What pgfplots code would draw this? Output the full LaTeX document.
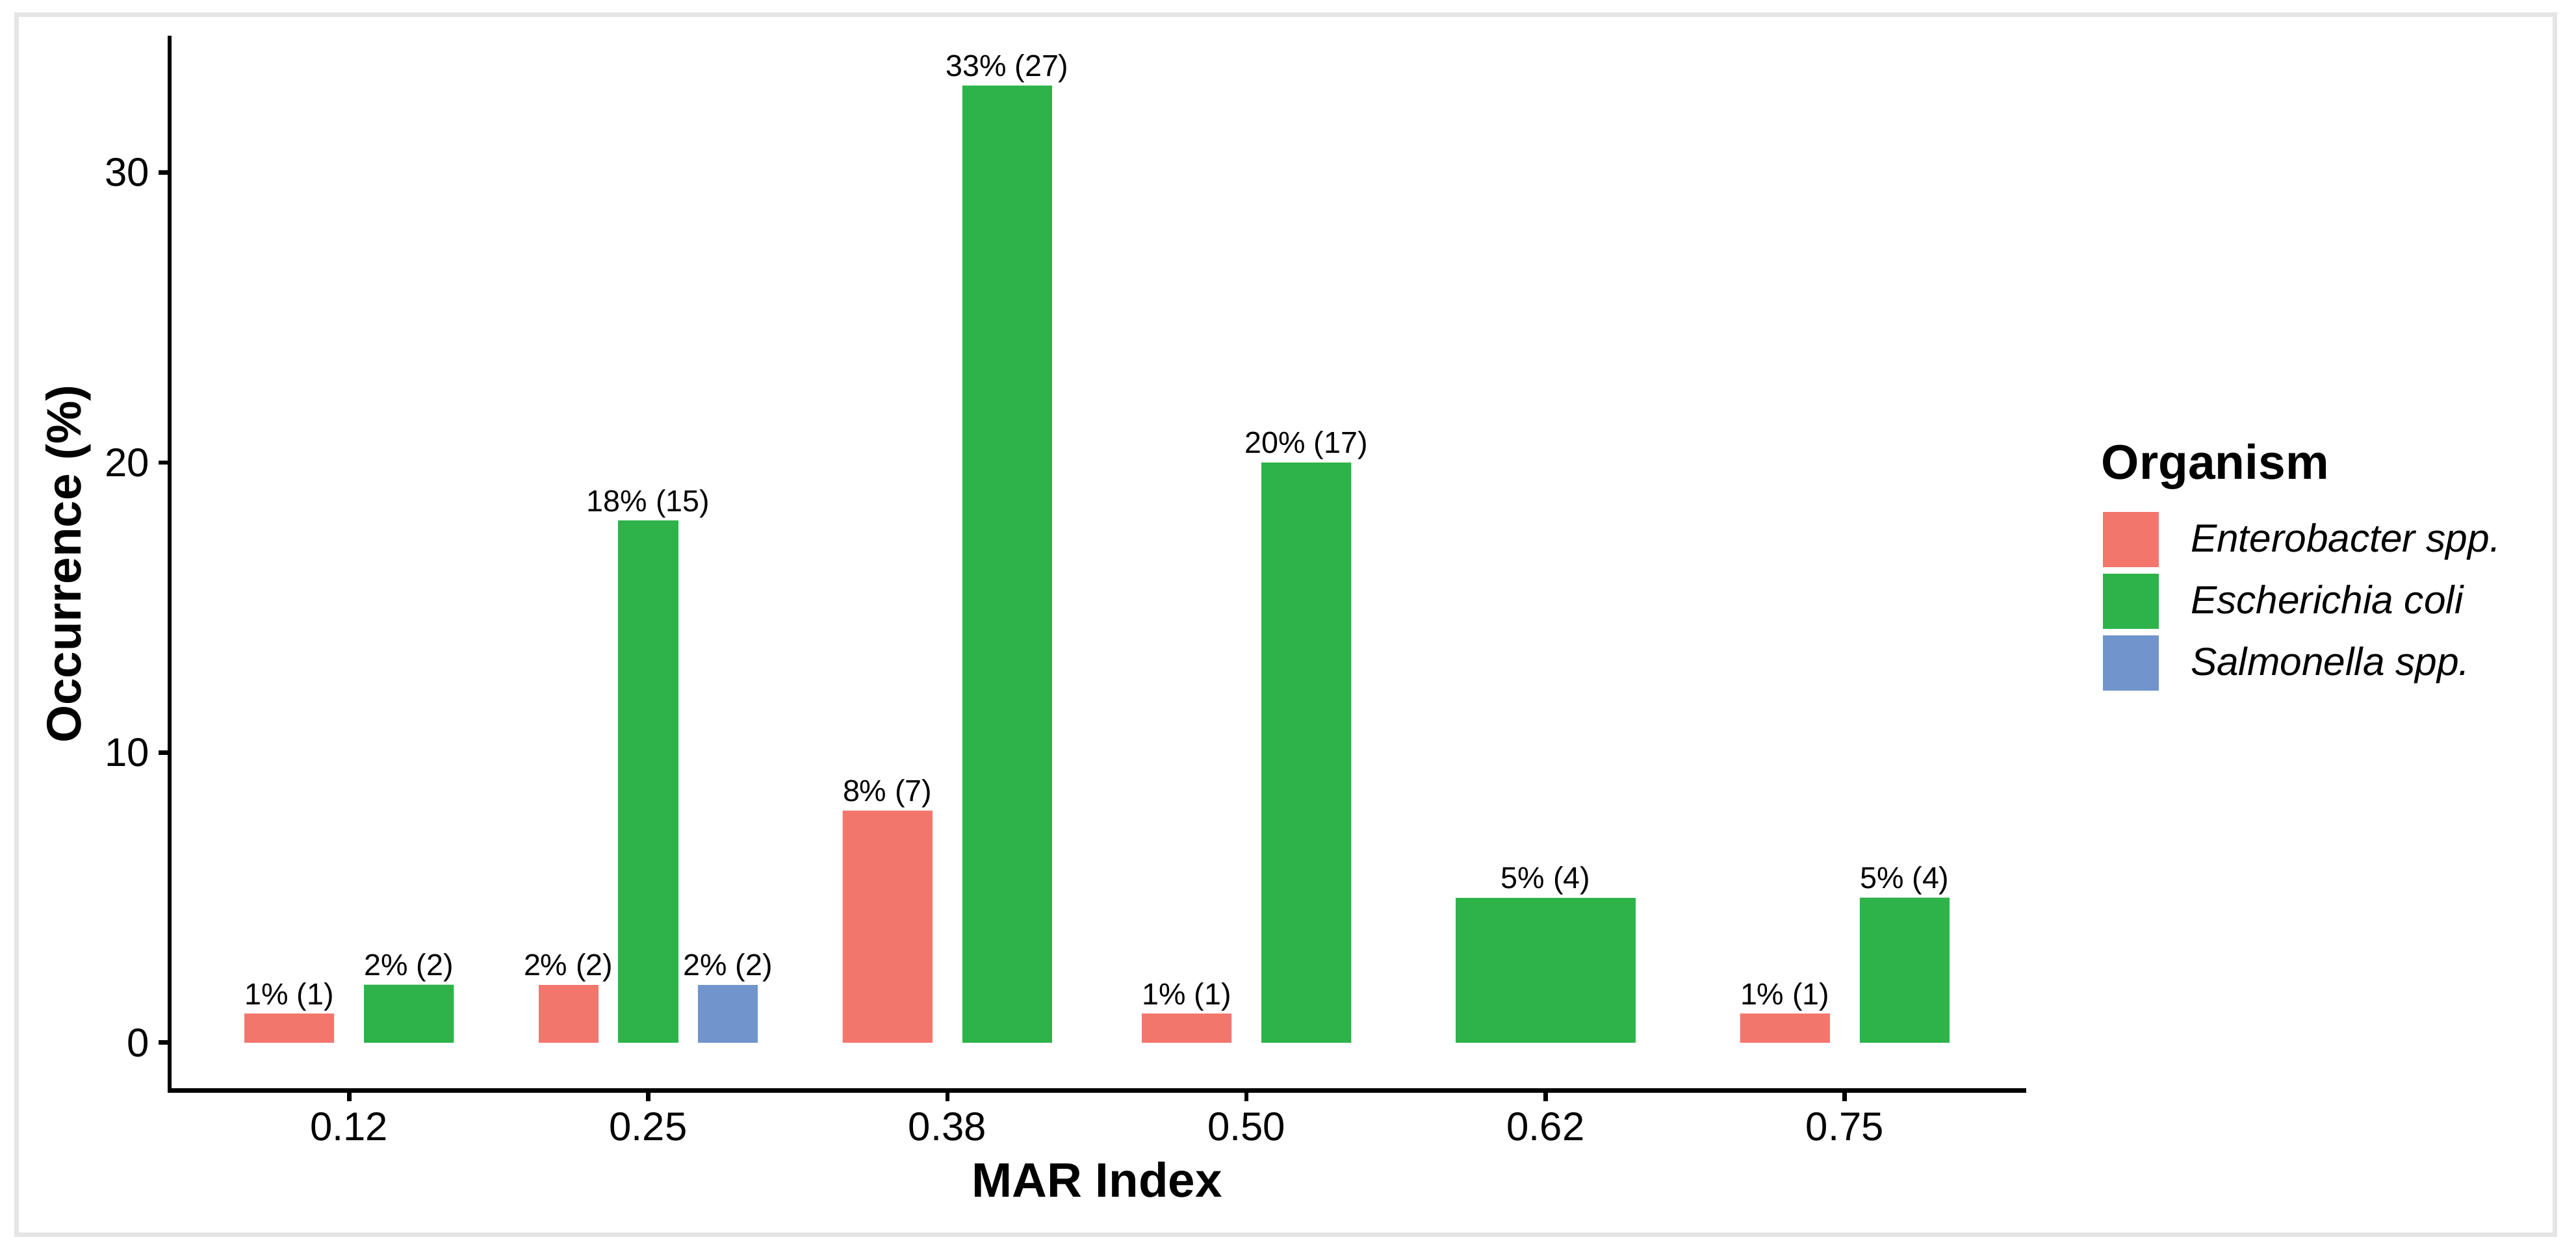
\documentclass[border=0pt]{standalone}
\usepackage{pgfplots}
\usepackage{pgfplotstable}
\pgfplotsset{compat=1.18}
\usepackage{fontspec}
\setmainfont{Liberation Sans}
\definecolor{entc}{HTML}{F3766D}
\definecolor{ecoc}{HTML}{2DB34A}
\definecolor{salc}{HTML}{7094CC}
\definecolor{framec}{HTML}{E5E5E5}

% x = category position (1 = 0.12, ..., 6 = 0.75) after dodging; y = occurrence (%); n = count
\pgfplotstableread{
x y n
0.8 1 1
2.8 8 7
3.8 1 1
5.8 1 1
}\entA
\pgfplotstableread{
x y n
1.7333 2 2
}\entB
\pgfplotstableread{
x y n
1.2 2 2
3.2 33 27
4.2 20 17
6.2 5 4
}\ecoA
\pgfplotstableread{
x y n
2 18 15
}\ecoB
\pgfplotstableread{
x y n
5 5 4
}\ecoC
\pgfplotstableread{
x y n
2.2667 2 2
}\salB

\begin{document}
\begin{tikzpicture}
\useasboundingbox (0,0) rectangle (951.36pt,461.76pt);
\draw[line width=1.68pt, framec] (6.12pt,5.64pt) rectangle (943.56pt,456.36pt);
\begin{axis}[
  at={(62.64pt,58.92pt)}, anchor=south west,
  scale only axis, width=684.96pt, height=388.92pt,
  ybar, bar shift=0pt,
  xmin=0.4, xmax=6.6, ymin=-1.65, ymax=34.65,
  xtick={1,2,3,4,5,6},
  xticklabels={0.12,0.25,0.38,0.50,0.62,0.75},
  ytick={0,10,20,30},
  axis x line*=bottom, axis y line*=left,
  axis line style={line width=1.6pt, -, line cap=rect},
  every outer x axis line/.append style={-},
  every outer y axis line/.append style={-},
  tick style={line width=1.6pt, black},
  major tick length=4pt, tick align=outside,
  /pgf/number format/assume math mode=true,
  ticklabel style={font=\fontsize{14.8}{17}\selectfont, text=black},
  xticklabel style={anchor=base, yshift=-14.6pt},
  xlabel={\textbf{MAR Index}},
  ylabel={\textbf{Occurrence (\%)}},
  xlabel style={font=\fontsize{17.9}{21}\selectfont, at={(axis description cs:0.5,-0.1015)}, anchor=base},
  ylabel style={font=\fontsize{17.9}{21}\selectfont, at={(axis description cs:-0.048,0.5)}, anchor=base, rotate=0},
  legend image code/.code={\fill[#1] (0pt,-10.2pt) rectangle (20.6pt,10.2pt);},
  legend style={at={(1.0424,0.5495)}, anchor=north west, draw=none, fill=none,
    inner sep=0pt, outer sep=0pt, row sep=2.4pt,
    font=\fontsize{14.5}{16}\selectfont\itshape,
    /tikz/every odd column/.append style={column sep=9.8pt}},
  legend cell align=left,
  point meta=y,
  visualization depends on={\thisrow{n} \as \cnt},
  nodes near coords={\pgfmathprintnumber{\pgfplotspointmeta}\%~(\pgfmathprintnumber{\cnt})},
  every node near coord/.append style={font=\fontsize{11.2}{13}\selectfont, anchor=base, yshift=3.4pt, text=black},
  clip=false,
]
\addplot[forget plot, fill=entc, draw=none, bar width=0.3, bar shift=0pt] table[x=x,y=y] {\entA};
\addplot[forget plot, fill=entc, draw=none, bar width=0.2, bar shift=0pt] table[x=x,y=y] {\entB};
\addplot[forget plot, fill=ecoc, draw=none, bar width=0.3, bar shift=0pt] table[x=x,y=y] {\ecoA};
\addplot[forget plot, fill=ecoc, draw=none, bar width=0.2, bar shift=0pt] table[x=x,y=y] {\ecoB};
\addplot[forget plot, fill=ecoc, draw=none, bar width=0.6, bar shift=0pt] table[x=x,y=y] {\ecoC};
\addplot[forget plot, fill=salc, draw=none, bar width=0.2, bar shift=0pt] table[x=x,y=y] {\salB};
\addlegendimage{fill=entc, draw=none}
\addlegendentry{Enterobacter spp.}
\addlegendimage{fill=ecoc, draw=none}
\addlegendentry{Escherichia coli}
\addlegendimage{fill=salc, draw=none}
\addlegendentry{Salmonella spp.}
\end{axis}
\node[anchor=base west, inner sep=0pt, font=\fontsize{18}{21}\selectfont\bfseries] at (775.92pt,284.64pt) {Organism};
\end{tikzpicture}
\end{document}
